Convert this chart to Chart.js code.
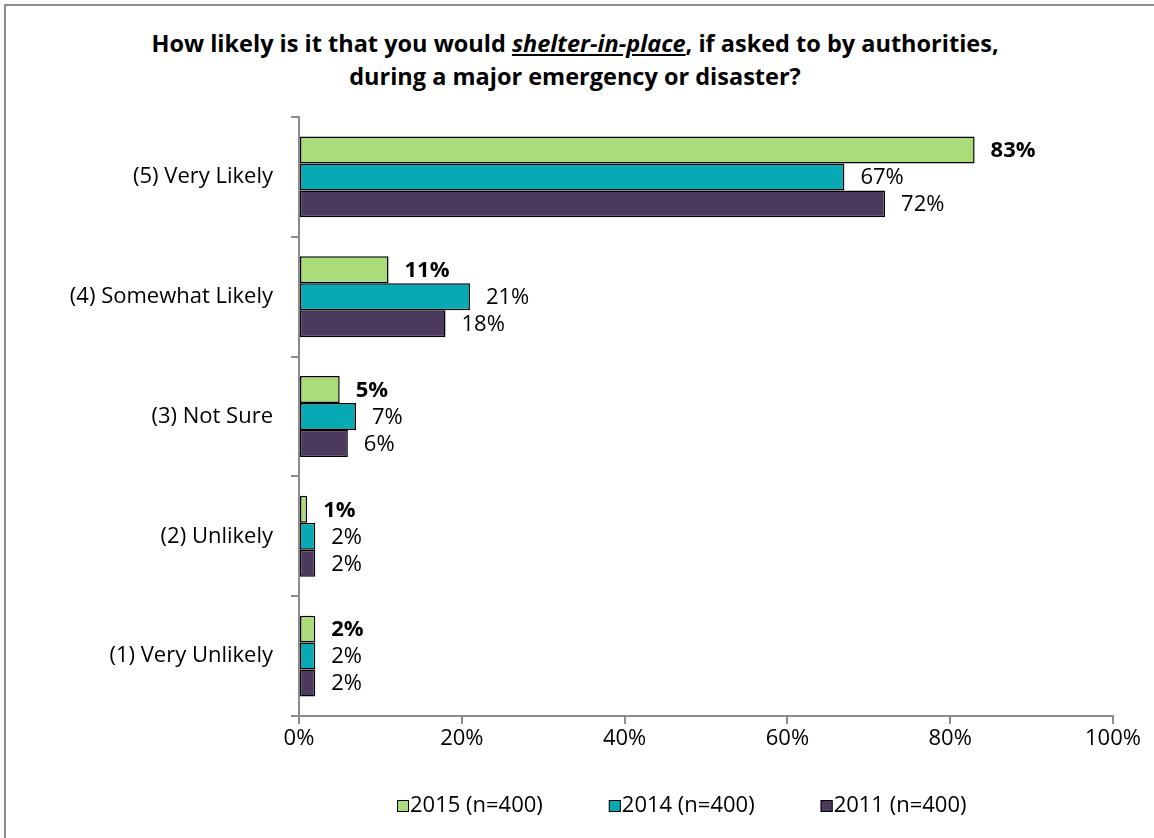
<!DOCTYPE html>
<html lang="en">
<head>
    <meta charset="UTF-8">
    <title>Shelter-in-place likelihood</title>
    <script src="https://cdn.jsdelivr.net/npm/chart.js"></script>
    <style>
        body {
            margin: 0;
            background: #fff;
            font-family: 'Open Sans', sans-serif;
        }

        .frame {
            position: absolute;
            left: 4px;
            top: 4px;
            width: 1170px;
            height: 860px;
            border: 2px solid #8c8c8c;
        }

        .wrap {
            position: absolute;
            left: 0;
            top: 0;
            width: 1154px;
            height: 838px;
            overflow: hidden;
        }

        .title {
            position: absolute;
            left: 0;
            top: 27px;
            width: 1150px;
            text-align: center;
            font-weight: bold;
            font-size: 23.5px;
            line-height: 33px;
            color: #000;
        }

        .title i {
            text-decoration: underline;
        }

        canvas {
            position: absolute;
            left: 0;
            top: 0;
        }
    </style>
</head>
<body>
    <div class="wrap">
        <div class="frame"></div>
        <div class="title">
            How likely is it that you would <i>shelter-in-place</i>, if asked to by authorities,<br>
            during a major emergency or disaster?
        </div>
        <canvas id="likelyChart" width="1154" height="838"></canvas>
    </div>

    <script>
        // Survey answers, top to bottom
        const categories = [
            '(5) Very Likely',
            '(4) Somewhat Likely',
            '(3) Not Sure',
            '(2) Unlikely',
            '(1) Very Unlikely'
        ];

        const seriesNames = ['2015 (n=400)', '2014 (n=400)', '2011 (n=400)'];
        const values2015 = [83, 11, 5, 1, 2];
        const values2014 = [67, 21, 7, 2, 2];
        const values2011 = [72, 18, 6, 2, 2];
        const xTicks = [0, 20, 40, 60, 80, 100];

        const colors = ['#abdc7a', '#07a9b4', '#4b3a5e'];
        const axisGray = '#8c8c8c';
        const FONT = '"Open Sans", sans-serif';
        const SIZE = 22;

        const datasets = [values2015, values2014, values2011].map((vals, i) => ({
            label: seriesNames[i],
            data: vals,
            backgroundColor: colors[i],
            borderColor: '#000',
            borderWidth: 1.5,
            borderSkipped: false,
            categoryPercentage: 0.675,
            barPercentage: 1.0
        }));

        // value labels at the end of each bar, 2015 in bold
        const barLabels = {
            id: 'barLabels',
            afterDatasetsDraw(chart) {
                const ctx = chart.ctx;
                ctx.save();
                ctx.fillStyle = '#000';
                ctx.textAlign = 'left';
                ctx.textBaseline = 'middle';
                chart.data.datasets.forEach((ds, di) => {
                    ctx.font = (di === 0 ? 'bold ' : '') + SIZE + 'px ' + FONT;
                    chart.getDatasetMeta(di).data.forEach((bar, i) => {
                        ctx.fillText(ds.data[i] + '%', bar.x + 16, bar.y + 1);
                    });
                });
                ctx.restore();
            }
        };

        // legend row below the axis
        const bottomLegend = {
            id: 'bottomLegend',
            afterDraw(chart) {
                const ctx = chart.ctx;
                ctx.save();
                ctx.font = SIZE + 'px ' + FONT;
                ctx.textBaseline = 'middle';
                let x = 397;
                const y = 806;
                chart.data.datasets.forEach((ds, i) => {
                    ctx.fillStyle = ds.backgroundColor;
                    ctx.fillRect(x, y - 6, 12, 12);
                    ctx.strokeStyle = '#000';
                    ctx.lineWidth = 1;
                    ctx.strokeRect(x + 0.5, y - 5.5, 11, 11);
                    ctx.fillStyle = '#000';
                    ctx.fillText(ds.label, x + 13, y);
                    x += 13 + ctx.measureText(ds.label).width + 66;
                });
                ctx.restore();
            }
        };

        new Chart(document.getElementById('likelyChart'), {
            type: 'bar',
            data: { labels: categories, datasets: datasets },
            options: {
                indexAxis: 'y',
                responsive: false,
                animation: false,
                layout: { padding: { top: 117, right: 41, bottom: 72, left: 0 } },
                plugins: {
                    legend: { display: false },
                    title: { display: false },
                    tooltip: { enabled: false }
                },
                scales: {
                    x: {
                        min: 0,
                        max: 100,
                        afterFit: (scale) => { scale.height = 50; },
                        afterBuildTicks: (scale) => {
                            scale.ticks = xTicks.map(v => ({ value: v }));
                        },
                        border: { color: axisGray, width: 2 },
                        grid: {
                            drawOnChartArea: false,
                            drawTicks: true,
                            tickLength: 8,
                            color: axisGray,
                            lineWidth: 2
                        },
                        ticks: {
                            padding: 2,
                            color: '#000',
                            font: { family: FONT, size: SIZE },
                            callback: (v) => v + '%'
                        }
                    },
                    y: {
                        afterFit: (scale) => { scale.width = 299; },
                        border: { color: axisGray, width: 2 },
                        grid: {
                            offset: true,
                            drawOnChartArea: false,
                            drawTicks: true,
                            tickLength: 8,
                            color: axisGray,
                            lineWidth: 2
                        },
                        ticks: {
                            padding: 18,
                            color: '#000',
                            font: { family: FONT, size: SIZE }
                        }
                    }
                }
            },
            plugins: [barLabels, bottomLegend]
        });
    </script>
</body>
</html>
